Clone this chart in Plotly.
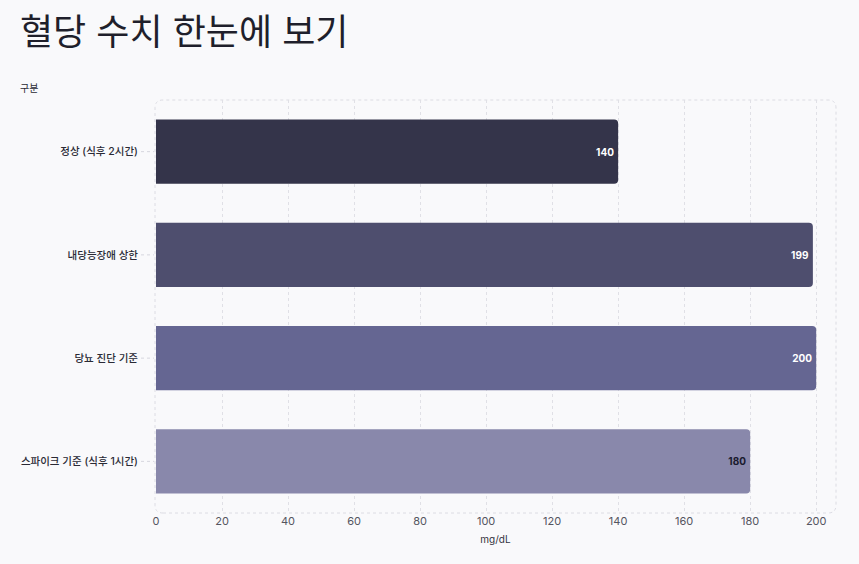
import plotly.graph_objects as go

categories = ["정상 (식후 2시간)", "내당능장애 상한", "당뇨 진단 기준", "스파이크 기준 (식후 1시간)"]
values = [140, 199, 200, 180]
bar_colors = ["#34344a", "#4e4e6e", "#656692", "#8988ab"]
label_colors = ["#ffffff", "#ffffff", "#ffffff", "#1a1a2e"]
x_ticks = [0, 20, 40, 60, 80, 100, 120, 140, 160, 180, 200]

FONT = "Inter, 'Noto Sans CJK KR', 'Noto Sans', sans-serif"
BG = "#f9f9fb"
DASH = "3px,3px"

fig = go.Figure()
fig.add_trace(go.Bar(
    x=values, y=categories, orientation="h",
    marker=dict(color=bar_colors, cornerradius=4, line=dict(width=0)),
    text=values, texttemplate="<b>%{text}</b>",
    textposition="inside", insidetextanchor="end",
    textfont=dict(color=label_colors, size=10, family=FONT),
    hoverinfo="skip",
))

# rounded dashed frame round the plot area
W, H = 681, 413
r = 8
rx, ry = r / W, r / H
path = (f"M {rx},0 L {1-rx},0 Q 1,0 1,{ry} L 1,{1-ry} Q 1,1 {1-rx},1 "
        f"L {rx},1 Q 0,1 0,{1-ry} L 0,{ry} Q 0,0 {rx},0 Z")
fig.add_shape(type="path", path=path, xref="paper", yref="paper",
              line=dict(color="#dcdce3", width=1, dash=DASH), layer="below")

# short dashed tick marks beside each category label
for cat in categories:
    fig.add_shape(type="line", xref="paper", yref="y", x0=-14 / W, x1=-1 / W,
                  y0=cat, y1=cat, line=dict(color="#d6d6de", width=1, dash=DASH))

fig.update_layout(
    width=859, height=564,
    paper_bgcolor=BG, plot_bgcolor=BG,
    margin=dict(l=155, r=23, t=100, b=51),
    font=dict(family=FONT, color="#333340"),
    showlegend=False,
    bargap=0.38,
    title=dict(text="혈당 수치 한눈에 보기", x=20 / 859, xanchor="left",
               y=1 - 32 / 564, yanchor="middle",
               font=dict(size=36, color="#1f1f2b", family=FONT)),
    annotations=[dict(text="구분", xref="paper", yref="paper",
                      x=-137 / W, y=1 + 12 / H, xanchor="left", yanchor="middle",
                      showarrow=False, font=dict(size=10, color="#2a2a35"))],
)
fig.update_xaxes(
    range=[-0.3, 206], tickvals=x_ticks, showgrid=True, gridcolor="#e0e0e6",
    griddash=DASH, gridwidth=1, zeroline=False, showline=False,
    tickfont=dict(size=11, color="#555560"), ticks="",
    title=dict(text="mg/dL", font=dict(size=10, color="#333340"), standoff=8),
)
fig.update_yaxes(
    range=[3.5, -0.5], showgrid=False, zeroline=False, showline=False,
    ticks="", ticklabelstandoff=16,
    tickfont=dict(size=10.5, color="#2a2a35", weight=500),
)

fig.write_html("out.html", config={"displayModeBar": False},
               post_script="document.body.style.margin='0';document.body.style.background='#f9f9fb';")
